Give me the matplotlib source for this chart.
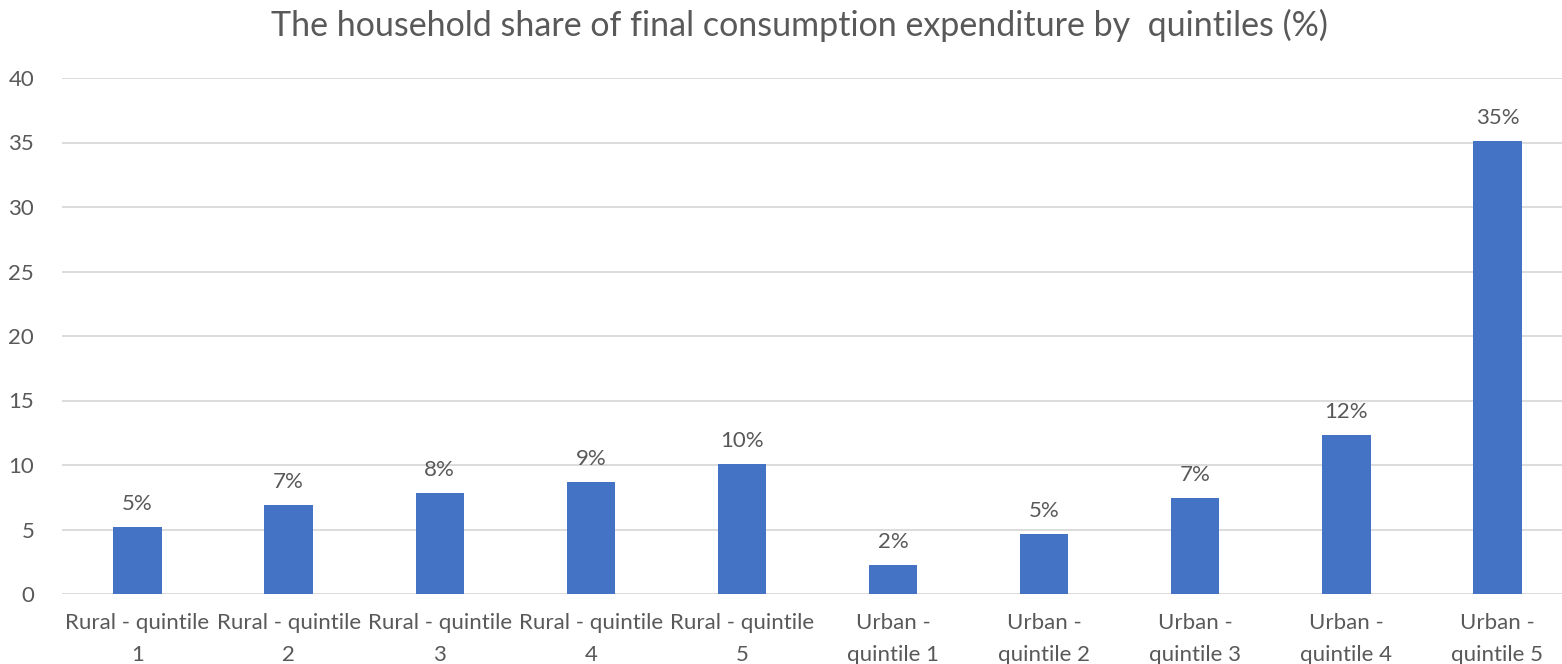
import numpy as np
import matplotlib.pyplot as plt

plt.rcParams['font.family'] = ['Lato', 'DejaVu Sans']

# categories and values (share in %)
labels = ['Rural - quintile\n1', 'Rural - quintile\n2', 'Rural - quintile\n3',
          'Rural - quintile\n4', 'Rural - quintile\n5',
          'Urban -\nquintile 1', 'Urban -\nquintile 2', 'Urban -\nquintile 3',
          'Urban -\nquintile 4', 'Urban -\nquintile 5']
values = [5.2, 6.9, 7.8, 8.7, 10.1, 2.25, 4.65, 7.45, 12.3, 35.1]
texte = ['5%', '7%', '8%', '9%', '10%', '2%', '5%', '7%', '12%', '35%']

gris = '#595959'

fig = plt.figure(figsize=(15.62, 6.64), dpi=100)
ax = fig.add_axes([62 / 1562, 70 / 664, 1511 / 1562, 516 / 664])

x = np.arange(len(values))
ax.bar(x, values, width=0.32, color='#4472C4', zorder=3)

for xi, v, t in zip(x, values, texte):
    ax.text(xi, v + 1.0, t, ha='center', va='bottom', fontsize=16, color=gris)

ax.set_xlim(-0.5, len(values) - 0.5)
ax.set_ylim(0, 40)
ax.set_yticks(np.arange(0, 41, 5))
ax.set_xticks(x)
ax.set_xticklabels(labels, fontsize=16, color=gris, linespacing=1.7)
ax.tick_params(axis='y', labelsize=16, labelcolor=gris, length=0, pad=20)
ax.tick_params(axis='x', length=0, pad=14)
ax.grid(axis='y', color='#d9d9d9', linewidth=1.3, zorder=0)
for s in ax.spines.values():
    s.set_visible(False)

fig.text(0.512, 0.962, 'The household share of final consumption expenditure by  quintiles (%)',
         ha='center', va='center', fontsize=24.5, color=gris)

fig.savefig('out.png', dpi=100)
